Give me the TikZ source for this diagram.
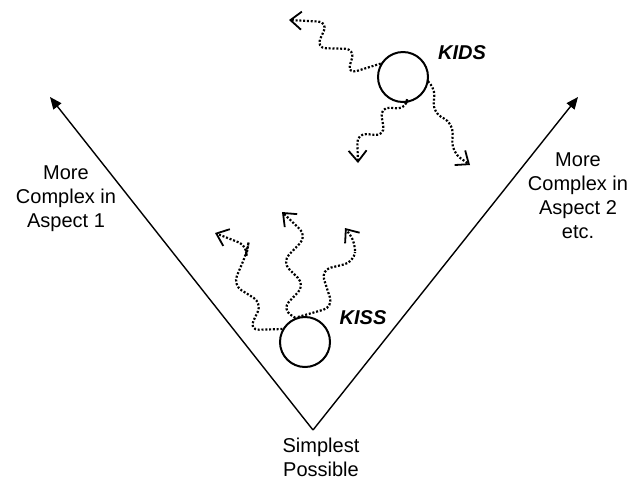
\documentclass[tikz,border=0pt]{standalone}
\usepackage{fontspec}
\setmainfont{Liberation Sans}
\usepackage{tikz}
\usetikzlibrary{positioning,arrows.meta}
\tikzset{
  axis/.style={-{Triangle[length=6pt,width=5pt]},line width=0.7pt,draw=black},
  ball/.style={circle,draw=black,line width=1pt,minimum size=25pt,inner sep=0pt},
  wiggle/.style={-{Straight Barb[length=5.5pt,width=9pt,line width=0.9pt]},line width=1.1pt,
    dash pattern=on 1pt off 0.9pt,rounded corners=5pt,draw=black},
  tag/.style={font=\fontsize{10}{12}\selectfont,align=center},
  balllabel/.style={font=\fontsize{10}{12}\selectfont\bfseries\itshape}
}
\begin{document}
\begin{tikzpicture}[x=0.5pt,y=-0.5pt]
\useasboundingbox (0,0) rectangle (632,479);
% Axes
\coordinate (base) at (313,430);
\coordinate (top1) at (50,97);
\coordinate (top2) at (578,97);
\draw[axis] (base) -- (top1);
\draw[axis] (base) -- (top2);
\node[tag] (simplest) at (321,457) {Simplest\\Possible};
\node[tag] (aspect1) at (66,199) {More\\Complex in\\Aspect 1};
\node[tag] (aspect2) at (578,196) {More\\Complex in\\Aspect 2\\etc.};

% KISS
\node[ball] (kiss) at (305,342) {};
\node[balllabel] (kisslbl) at (363,318) {KISS};
\coordinate (a) at (215,233);
\coordinate (b) at (282,212);
\coordinate (c) at (345,228);
\draw[wiggle] (kiss.150) -- (249,330) -- (262,303) -- (233,285) -- (247,252) -- (248,246) -- (a);
\draw[wiggle] (kiss.112) -- (282,309) -- (305,285) -- (282,262) -- (307,236) -- (b);
\draw[wiggle] (kiss.106) -- (333,307) -- (321,270) -- (354,262) -- (356,243) -- (c);

% KIDS
\node[ball] (kids) at (403,77) {};
\node[balllabel] (kidslbl) at (462,53) {KIDS};
\coordinate (d) at (289,20);
\coordinate (e) at (358,163);
\coordinate (f) at (470,165);
\draw[wiggle] (kids.149) -- (347,74) -- (355,49) -- (316,48) -- (328,22) -- (d);
\draw[wiggle] (kids.-81) -- (407,109) -- (380,107) -- (385,136) -- (357,133) -- (e);
\draw[wiggle] (kids.-10) -- (435,86) -- (433,113) -- (453,123) -- (452,152) -- (f);
\end{tikzpicture}
\end{document}
